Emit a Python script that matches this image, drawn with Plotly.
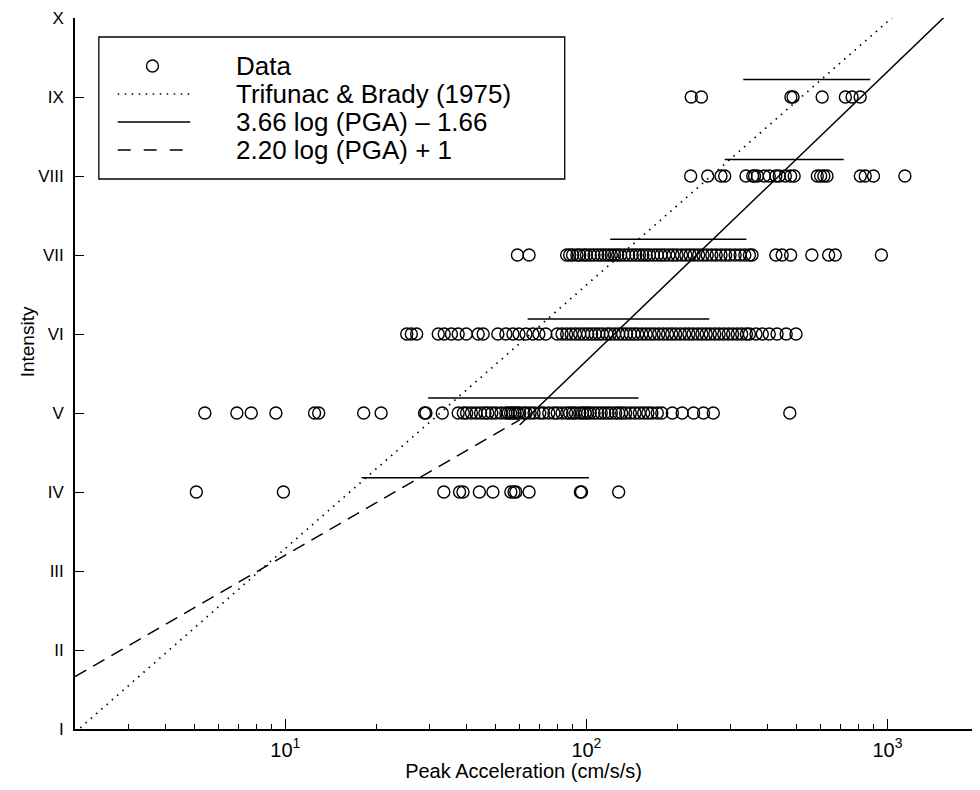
import numpy as np
import plotly.graph_objects as go

# ---------------- data ----------------
roman = ["I", "II", "III", "IV", "V", "VI", "VII", "VIII", "IX", "X"]
intensity_levels = [1, 2, 3, 4, 5, 6, 7, 8, 9, 10]

pga_IV = [5.06, 9.85, 33.6, 37.9, 38.9, 44.1, 48.9, 56.1, 57.5, 58.3, 64.5, 95.5, 96.3, 128]
pga_V = [5.4, 6.9, 7.7, 9.3, 12.5, 12.9, 18.2, 20.8, 29.0, 29.3, 33.2, 37.5, 39, 40, 41.5, 43,
         44.5, 46, 47, 48.5, 50, 52, 54, 55, 56, 57, 58, 59, 60, 62, 63, 65, 67, 70, 72, 75, 78,
         80, 83, 86, 88, 90, 92, 95, 97, 99, 101, 103, 106, 109, 112, 115, 118, 121, 125, 128,
         131, 135, 140, 145, 150, 155, 160, 165, 172, 178, 193, 208, 227, 245, 264, 474]
pga_VI = [25.3, 26.2, 27.3, 32.2, 33.7, 35.6, 37.5, 39.9, 43.7, 45.4, 50.8, 54.0, 57.0, 59.7,
          63.0, 66.4, 69.5, 73.3, 80, 83, 86, 89, 92, 95, 98, 101, 104, 107, 110, 113, 117, 120,
          124, 128, 132, 136, 140, 144, 148, 153, 158, 163, 168, 174, 180, 186, 192, 198, 205,
          212, 219, 226, 234, 242, 250, 258, 267, 276, 286, 296, 306, 317, 328, 340, 348, 366,
          384, 405, 430, 461, 497]
pga_VII = [59.0, 64.5, 86, 88, 90, 93, 95, 98, 100, 103, 106, 109, 112, 115, 118, 121, 124, 127,
           130, 134, 138, 142, 146, 150, 154, 158, 162, 167, 172, 177, 182, 188, 194, 200, 207,
           214, 221, 228, 236, 244, 252, 261, 270, 280, 290, 300, 312, 324, 336, 348, 355, 426,
           447, 477, 561, 638, 671, 955]
pga_VIII = [222, 253, 280, 288, 339, 357, 362, 370, 390, 405, 426, 437, 458, 477, 490, 585, 600,
            615, 630, 813, 844, 899, 1143]
pga_IX = [223, 241, 478, 486, 607, 725, 763, 812]

# mean +/- one sigma bars for each intensity class
bar_level = [4.18, 5.19, 6.19, 7.20, 8.21, 9.22]
bar_lo = [17.9, 29.8, 63.8, 120, 288, 332]
bar_hi = [102, 149, 256, 340, 716, 877]

# relations
trif_a, trif_b = 0.014, 0.30          # log(PGA) = 0.014 + 0.30 I
solid_m, solid_c = 3.66, -1.66        # I = 3.66 log(PGA) - 1.66
dash_m, dash_c = 2.20, 1.0            # I = 2.20 log(PGA) + 1
x_min, x_max, x_break = 2.0, 2000.0, 60.0
axis_x_max = 1910.0

# ---------------- build ----------------
groups = [(4, pga_IV), (5, pga_V), (6, pga_VI), (7, pga_VII), (8, pga_VIII), (9, pga_IX)]
data_x, data_y = [], []
for lvl, vals in groups:
    data_x += vals
    data_y += [lvl] * len(vals)

fig = go.Figure()

bx, by = [], []
for lv, lo, hi in zip(bar_level, bar_lo, bar_hi):
    bx += [lo, hi, None]
    by += [lv, lv, None]
fig.add_trace(go.Scatter(x=bx, y=by, mode="lines", line=dict(color="black", width=1.5),
                         showlegend=False, hoverinfo="skip"))

tx = np.array([x_min, x_max])
ty = (np.log10(tx) - trif_a) / trif_b
fig.add_trace(go.Scatter(x=tx, y=ty, mode="lines", name="Trifunac & Brady (1975)",
                         line=dict(color="black", width=1.7, dash="1.5px,5.5px"), showlegend=False))
sx = np.array([x_break, x_max])
sy = solid_m * np.log10(sx) + solid_c
fig.add_trace(go.Scatter(x=sx, y=sy, mode="lines", name="3.66 log (PGA) – 1.66",
                         line=dict(color="black", width=1.5), showlegend=False))
dx = np.array([x_min, x_break])
dy = dash_m * np.log10(dx) + dash_c
fig.add_trace(go.Scatter(x=dx, y=dy, mode="lines", name="2.20 log (PGA) + 1",
                         line=dict(color="black", width=1.5, dash="13px,8px"), showlegend=False))
fig.add_trace(go.Scatter(x=data_x, y=data_y, mode="markers", name="Data",
                         marker=dict(symbol="circle-open", size=12, color="black",
                                     line=dict(width=1.4, color="black")),
                         showlegend=False))

# ---------------- layout ----------------
OFF = 8                      # page body margin
W, H = 964, 774
ML, MR, MT, MB = 61, 0, 10, 53
PW, PH = W - ML - MR, H - MT - MB


def px_x(p):                 # screen pixel -> paper
    return (p - OFF - ML) / PW


def px_y(p):
    return (H - MB - (p - OFF)) / PH


FONT = "Liberation Sans, Arial, Helvetica, sans-serif"

minor_vals = [3, 4, 5, 6, 7, 8, 9, 20, 30, 40, 50, 60, 70, 80, 90,
              200, 300, 400, 500, 600, 700, 800, 900]

fig.update_layout(
    width=W, height=H, autosize=False,
    margin=dict(l=ML, r=MR, t=MT, b=MB, pad=0),
    paper_bgcolor="white", plot_bgcolor="white",
    font=dict(family=FONT, color="black", size=18),
    showlegend=False,
    xaxis=dict(
        type="log", range=[np.log10(x_min), np.log10(axis_x_max)],
        showgrid=False, zeroline=False,
        showline=True, linecolor="black", linewidth=1.6, mirror=False,
        ticks="inside", ticklen=10, tickwidth=1.3, tickcolor="black",
        tickvals=[10, 100, 1000],
        ticktext=["10<sup>1</sup>", "10<sup>2</sup>", "10<sup>3</sup>"],
        tickfont=dict(size=20), ticklabelstandoff=2,
        minor=dict(tickvals=minor_vals, ticks="inside", ticklen=5, tickwidth=1.2,
                   tickcolor="black", showgrid=False),
        title=dict(text="Peak Acceleration (cm/s/s)", font=dict(size=20), standoff=0),
    ),
    yaxis=dict(
        range=[1, 10], showgrid=False, zeroline=False,
        showline=True, linecolor="black", linewidth=1.6, mirror=False,
        ticks="inside", ticklen=9, tickwidth=1.3, tickcolor="black",
        tickvals=intensity_levels, ticktext=roman,
        tickfont=dict(size=17), ticklabelstandoff=6,
        title=dict(text=""),
    ),
)

# ---------------- manual legend + y title ----------------
shapes = [dict(type="rect", xref="paper", yref="paper",
               x0=px_x(93), x1=px_x(562), y0=px_y(179), y1=px_y(37),
               line=dict(color="black", width=1.3), fillcolor="white", layer="above")]
rows_y = [66, 94, 122, 150]
labels = ["Data", "Trifunac & Brady (1975)", "3.66 log (PGA) – 1.66", "2.20 log (PGA) + 1"]
shapes.append(dict(type="circle", xref="paper", yref="paper",
                   x0=px_x(147 - 6), x1=px_x(147 + 6),
                   y0=px_y(rows_y[0] + 6), y1=px_y(rows_y[0] - 6),
                   line=dict(color="black", width=1.4), layer="above"))
shapes.append(dict(type="line", xref="paper", yref="paper", x0=px_x(112), x1=px_x(185),
                   y0=px_y(rows_y[1]), y1=px_y(rows_y[1]),
                   line=dict(color="black", width=1.5, dash="1.5px,5.5px"), layer="above"))
shapes.append(dict(type="line", xref="paper", yref="paper", x0=px_x(112), x1=px_x(185),
                   y0=px_y(rows_y[2]), y1=px_y(rows_y[2]),
                   line=dict(color="black", width=1.5), layer="above"))
shapes.append(dict(type="line", xref="paper", yref="paper", x0=px_x(112), x1=px_x(185),
                   y0=px_y(rows_y[3]), y1=px_y(rows_y[3]),
                   line=dict(color="black", width=1.5, dash="13px,13px"), layer="above"))
annotations = []
for ry, lab in zip(rows_y, labels):
    annotations.append(dict(xref="paper", yref="paper", x=px_x(229), y=px_y(ry),
                            xanchor="left", yanchor="middle", text=lab, showarrow=False,
                            font=dict(size=26, family=FONT, color="black")))
annotations.append(dict(xref="paper", yref="paper", x=px_x(21), y=px_y(342),
                        xanchor="center", yanchor="middle", text="Intensity", textangle=-90,
                        showarrow=False, font=dict(size=19, family=FONT, color="black")))
fig.update_layout(shapes=shapes, annotations=annotations)

fig.write_html("out.html")
